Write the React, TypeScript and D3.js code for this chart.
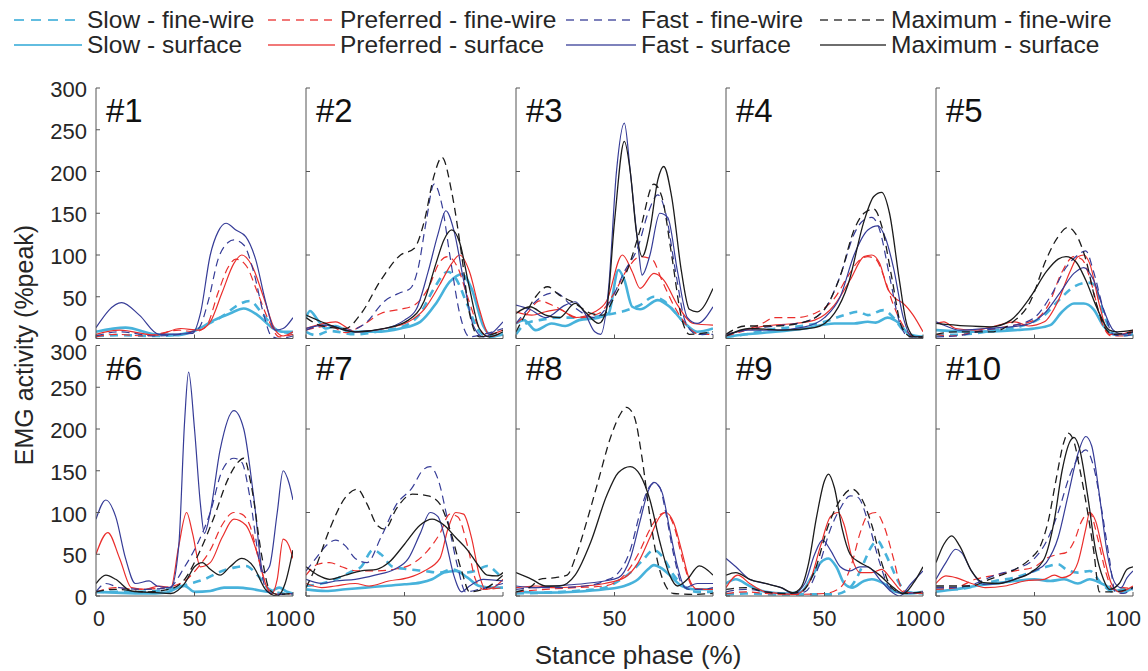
import React from 'react';
import * as d3 from 'd3';

type Pt = [number, number];
type Series = Pt[] | null;

// ---- categories / labels ----
const panelNames = ['#1', '#2', '#3', '#4', '#5', '#6', '#7', '#8', '#9', '#10'];
const speeds = ['Slow', 'Preferred', 'Fast', 'Maximum'];
const electrodes = ['fine-wire', 'surface'];
const speedColors = ['#47B2DB', '#EA2E2C', '#363C97', '#1C1C1C'];
const speedWidths = [2.6, 1.2, 1.2, 1.3];
const xTicks = [0, 50, 100];
const yTicksLabelled = [0, 50, 100, 150, 200, 250, 300];
const yTicksInner = [0, 100, 200, 300];

// ---- data: each panel = [slowFW, prefFW, fastFW, maxFW, slowSurf, prefSurf, fastSurf, maxSurf]
// points are [stance phase %, EMG %peak]
const p1: Series[] = [
  [[0,3],[12,4],[30,3],[45,6],[55,15],[65,28],[72,40],[78,45],[85,28],[92,10],[100,6]],
  [[0,2],[10,5],[25,3],[42,10],[50,8],[56,15],[62,55],[67,85],[71,95],[76,88],[82,55],[88,20],[93,2],[100,5]],
  [[0,3],[12,8],[30,3],[45,6],[52,12],[57,45],[62,95],[67,115],[70,118],[75,112],[80,80],[85,30],[89,3],[93,0],[100,3]],
  null,
  [[0,8],[15,13],[30,5],[42,4],[50,9],[60,22],[68,30],[75,36],[82,28],[90,12],[95,8],[100,8]],
  [[0,5],[12,10],[30,4],[43,12],[52,10],[58,20],[64,55],[70,90],[74,100],[79,88],[85,50],[91,10],[95,3],[100,8]],
  [[0,13],[13,43],[22,28],[32,5],[49,6],[53,30],[58,100],[62,128],[66,138],[71,130],[76,122],[81,95],[86,45],[91,10],[95,12],[100,25]],
  null,
];
const p2: Series[] = [
  [[0,8],[5,4],[12,9],[25,5],[40,10],[50,15],[58,30],[65,60],[72,80],[76,72],[82,40],[88,8],[93,2],[100,6]],
  [[0,10],[12,15],[20,7],[28,15],[38,30],[48,35],[55,40],[62,60],[68,92],[72,98],[77,85],[82,50],[88,12],[93,2],[100,8]],
  [[0,10],[10,16],[22,10],[30,18],[40,45],[48,55],[53,60],[57,85],[61,140],[65,185],[69,160],[73,100],[78,30],[83,2],[90,5],[100,12]],
  [[0,25],[8,15],[20,12],[28,30],[38,70],[48,100],[55,108],[60,140],[65,195],[69,217],[74,175],[79,100],[83,30],[88,2],[100,10]],
  [[0,25],[2,33],[6,22],[10,12],[15,15],[22,8],[35,8],[48,12],[58,20],[66,42],[73,68],[79,77],[84,60],[90,15],[95,3],[100,5]],
  [[0,12],[15,20],[25,8],[40,12],[52,20],[60,35],[68,65],[74,90],[78,100],[83,80],[88,35],[93,5],[100,10]],
  [[0,12],[10,16],[25,8],[40,12],[50,22],[56,35],[62,80],[67,125],[71,153],[75,130],[80,70],[85,15],[90,2],[100,20]],
  [[0,28],[10,18],[25,8],[40,12],[52,22],[60,45],[66,90],[70,118],[74,130],[78,115],[83,60],[88,12],[93,2],[100,8]],
];
const p3: Series[] = [
  [[0,5],[5,18],[12,22],[22,25],[35,25],[45,28],[55,33],[63,40],[70,50],[75,45],[82,28],[88,12],[93,5],[100,8]],
  [[0,18],[5,28],[12,45],[20,38],[32,25],[42,30],[50,55],[57,85],[63,98],[69,95],[74,70],[80,40],[87,15],[93,5],[100,5]],
  [[0,18],[6,35],[13,50],[20,55],[28,40],[40,25],[48,45],[55,80],[62,110],[67,150],[72,172],[76,150],[81,80],[86,20],[92,5],[100,5]],
  [[0,8],[5,30],[10,50],[16,62],[22,52],[30,42],[38,30],[44,28],[50,50],[57,85],[63,130],[70,185],[74,170],[79,100],[84,25],[88,5],[100,8]],
  [[0,18],[4,22],[10,10],[18,18],[25,15],[32,22],[42,25],[47,30],[52,82],[55,70],[59,38],[63,35],[72,46],[78,38],[85,20],[92,8],[100,12]],
  [[0,32],[8,28],[15,32],[22,35],[30,25],[40,32],[46,45],[54,100],[59,80],[63,60],[70,78],[75,70],[82,40],[90,18],[100,16]],
  [[0,40],[7,35],[15,25],[25,40],[30,44],[35,30],[40,8],[43,5],[47,60],[51,200],[55,258],[58,200],[62,110],[64,76],[68,100],[73,150],[77,145],[82,80],[87,25],[92,18],[100,38]],
  [[0,30],[7,38],[15,28],[22,25],[30,42],[35,32],[42,18],[46,35],[50,140],[55,236],[58,200],[61,130],[64,98],[68,130],[72,190],[75,206],[79,170],[84,80],[88,35],[92,32],[100,60]],
];
const p4: Series[] = [
  [[0,2],[10,5],[20,10],[35,14],[50,20],[60,28],[67,32],[72,28],[80,34],[85,25],[90,10],[95,3],[100,2]],
  [[0,3],[10,10],[20,20],[24,25],[35,25],[45,30],[55,48],[62,75],[67,92],[72,98],[76,95],[80,75],[85,40],[90,15],[95,3],[100,2]],
  [[0,5],[10,10],[25,15],[40,20],[50,35],[58,75],[65,125],[70,142],[74,145],[78,130],[83,75],[88,20],[93,2],[100,2]],
  [[0,5],[10,15],[25,15],[40,20],[50,35],[58,75],[65,130],[70,150],[75,155],[79,135],[84,75],[89,15],[94,2],[100,2]],
  [[0,2],[10,5],[25,8],[40,12],[55,18],[65,18],[72,20],[76,19],[82,25],[88,18],[93,5],[100,2]],
  [[0,5],[10,10],[20,15],[35,18],[45,22],[55,40],[63,70],[70,98],[74,100],[78,90],[82,60],[86,48],[90,42],[95,28],[100,8]],
  [[0,3],[10,10],[25,10],[40,14],[50,25],[58,50],[65,100],[72,130],[77,135],[81,120],[85,85],[90,25],[94,3],[100,2]],
  [[0,3],[12,12],[30,10],[45,13],[55,30],[62,65],[70,140],[75,170],[79,175],[83,150],[88,70],[92,15],[96,2],[100,2]],
];
const p5: Series[] = [
  [[0,4],[15,5],[30,10],[45,16],[55,28],[62,45],[70,62],[77,67],[80,65],[85,30],[90,6],[95,4],[100,5]],
  [[0,5],[8,3],[20,8],[35,14],[50,22],[57,40],[64,80],[70,98],[74,95],[79,65],[84,20],[89,3],[95,3],[100,8]],
  [[0,2],[10,3],[25,10],[40,16],[50,25],[58,50],[66,85],[72,100],[76,105],[80,80],[85,35],[90,5],[95,3],[100,5]],
  [[0,5],[10,8],[28,8],[38,18],[48,45],[56,95],[62,122],[67,133],[71,125],[76,95],[81,45],[86,12],[90,5],[100,8]],
  [[0,10],[20,8],[40,10],[50,12],[58,16],[64,32],[70,42],[75,42],[80,35],[85,15],[90,5],[100,5]],
  [[0,18],[4,20],[10,12],[20,10],[30,15],[40,20],[47,15],[55,20],[62,45],[68,80],[72,98],[75,100],[78,90],[83,40],[88,5],[94,5],[100,10]],
  [[0,20],[5,15],[12,10],[25,12],[45,16],[55,30],[63,55],[70,78],[75,85],[80,70],[85,35],[90,10],[95,5],[100,8]],
  [[0,18],[15,15],[28,14],[38,22],[48,50],[56,80],[62,95],[66,98],[71,92],[76,70],[82,35],[88,10],[92,8],[100,10]],
];
const p6: Series[] = [
  [[0,5],[15,5],[30,6],[40,10],[48,15],[55,20],[62,28],[70,34],[76,36],[82,25],[88,8],[95,3],[100,2]],
  [[0,5],[10,10],[20,8],[35,10],[45,18],[52,35],[58,55],[64,85],[70,100],[74,98],[78,85],[83,40],[87,10],[92,2],[100,3]],
  [[0,5],[5,15],[12,10],[25,8],[37,10],[45,35],[52,65],[58,100],[64,150],[70,165],[74,160],[78,120],[83,40],[87,5],[92,2],[100,3]],
  [[0,5],[10,8],[25,5],[37,8],[45,20],[52,50],[60,95],[67,140],[72,160],[75,165],[79,130],[84,50],[88,8],[92,2],[100,3]],
  [[0,5],[10,4],[25,3],[35,4],[45,12],[50,5],[58,6],[65,10],[72,10],[80,8],[88,5],[93,10],[97,5],[100,3]],
  [[0,50],[6,76],[12,45],[18,10],[25,8],[32,12],[38,10],[42,60],[46,100],[49,75],[53,35],[58,40],[64,70],[70,92],[76,85],[82,50],[86,15],[89,2],[92,20],[95,68],[98,60],[100,45]],
  [[0,92],[5,115],[10,95],[15,45],[20,15],[27,18],[31,12],[38,10],[42,60],[45,210],[47,268],[50,200],[53,110],[55,75],[58,100],[63,175],[70,222],[75,200],[80,120],[85,28],[88,35],[92,100],[95,150],[98,135],[100,115]],
  [[0,15],[5,25],[10,20],[18,6],[30,4],[38,3],[45,15],[50,35],[54,40],[58,32],[63,25],[68,35],[74,45],[80,35],[86,8],[92,0],[96,15],[100,55]],
];
const p7: Series[] = [
  [[0,12],[8,15],[15,20],[22,28],[28,35],[34,55],[38,50],[44,35],[52,32],[60,30],[68,28],[74,32],[80,28],[86,30],[92,36],[96,30],[100,20]],
  [[0,25],[6,38],[12,40],[18,35],[26,30],[35,30],[45,32],[55,40],[62,55],[68,75],[73,98],[77,95],[82,60],[86,20],[90,8],[100,10]],
  [[0,30],[5,45],[11,62],[15,67],[20,60],[25,45],[31,40],[38,70],[46,110],[54,130],[59,150],[63,155],[67,140],[72,90],[77,35],[81,5],[88,8],[100,15]],
  [[0,10],[5,35],[12,80],[20,118],[26,128],[31,110],[36,85],[40,80],[46,105],[54,122],[62,120],[68,110],[73,80],[79,30],[83,5],[90,8],[100,25]],
  [[0,8],[10,6],[20,8],[30,10],[40,12],[50,14],[58,16],[64,20],[70,28],[76,30],[82,22],[88,12],[95,10],[100,10]],
  [[0,15],[8,10],[15,12],[25,15],[32,12],[42,18],[52,22],[60,30],[68,45],[72,80],[76,100],[80,98],[84,70],[88,25],[91,8],[95,10],[100,20]],
  [[0,20],[8,15],[15,18],[25,20],[35,25],[45,32],[52,45],[58,75],[63,100],[67,95],[71,65],[75,25],[79,5],[83,12],[90,20],[100,18]],
  [[0,35],[6,25],[12,20],[20,25],[28,30],[36,32],[42,40],[50,62],[58,85],[64,92],[70,85],[76,70],[82,55],[88,35],[92,25],[97,24],[100,28]],
];
const p8: Series[] = [
  [[0,3],[15,4],[30,6],[45,10],[52,18],[58,28],[64,42],[70,55],[74,48],[80,25],[85,12],[92,5],[100,5]],
  [[0,5],[15,8],[30,10],[45,12],[55,25],[62,50],[68,80],[72,95],[76,100],[80,85],[85,40],[90,10],[95,8],[100,8]],
  [[0,8],[10,10],[20,10],[35,12],[45,18],[52,28],[58,55],[63,100],[67,128],[70,135],[73,130],[76,100],[80,50],[84,15],[88,8],[95,8],[100,10]],
  [[0,5],[8,12],[12,20],[20,22],[26,25],[30,45],[36,90],[42,140],[48,190],[53,218],[56,226],[60,215],[64,165],[68,95],[72,40],[76,12],[80,3],[90,2],[100,3]],
  [[0,5],[15,4],[30,5],[45,8],[55,12],[62,20],[67,32],[70,37],[74,33],[78,25],[84,12],[90,8],[100,8]],
  [[0,10],[10,12],[20,10],[35,12],[45,15],[55,22],[62,40],[68,70],[73,95],[76,100],[80,88],[84,55],[88,20],[92,8],[100,8]],
  [[0,12],[10,10],[20,12],[35,15],[45,18],[52,22],[58,45],[63,90],[67,125],[70,136],[74,125],[78,80],[82,35],[86,10],[92,15],[100,15]],
  [[0,28],[8,20],[15,12],[22,12],[30,25],[38,65],[46,120],[52,148],[58,155],[63,145],[68,115],[73,65],[78,25],[82,12],[87,20],[93,36],[100,25]],
];
const p9: Series[] = [
  [[0,2],[10,3],[25,2],[40,2],[55,2],[62,8],[66,20],[70,40],[74,60],[77,66],[80,55],[84,35],[88,15],[92,5],[100,3]],
  [[0,3],[10,5],[20,3],[35,2],[50,3],[58,10],[64,40],[68,75],[72,97],[76,100],[80,85],[85,45],[89,10],[93,3],[100,5]],
  [[0,5],[10,8],[20,5],[30,3],[40,5],[47,35],[53,80],[58,105],[63,120],[67,118],[72,90],[78,40],[83,10],[90,3],[100,5]],
  [[0,8],[10,10],[20,5],[30,3],[38,5],[45,30],[52,85],[58,115],[64,128],[68,120],[74,85],[79,40],[84,10],[90,3],[100,5]],
  [[0,15],[5,20],[12,12],[20,5],[30,3],[38,5],[44,25],[48,40],[52,45],[56,35],[60,15],[64,10],[70,18],[74,20],[80,15],[86,5],[92,3],[100,5]],
  [[0,10],[6,25],[12,15],[20,5],[35,2],[42,15],[48,60],[53,95],[57,100],[60,85],[64,45],[68,28],[74,28],[79,32],[84,20],[90,5],[100,3]],
  [[0,45],[5,35],[12,20],[20,15],[28,10],[34,3],[40,15],[45,50],[49,67],[53,55],[58,35],[63,30],[68,35],[72,35],[78,20],[84,5],[88,0],[94,15],[100,30]],
  [[0,25],[5,28],[12,20],[20,15],[28,10],[34,4],[38,10],[42,40],[46,95],[50,138],[52,146],[55,130],[59,80],[63,50],[68,40],[72,35],[78,25],[85,10],[90,3],[95,15],[100,35]],
];
const p10: Series[] = [
  [[0,8],[10,8],[20,12],[30,18],[40,22],[50,30],[56,35],[62,38],[66,32],[72,28],[78,30],[84,15],[90,5],[95,8],[100,8]],
  [[0,8],[10,10],[20,20],[30,25],[40,30],[50,35],[56,45],[62,50],[66,52],[70,65],[74,90],[78,100],[82,70],[86,30],[90,8],[95,10],[100,8]],
  [[0,10],[10,10],[20,15],[30,25],[40,32],[50,45],[56,65],[62,100],[68,145],[72,165],[76,175],[80,155],[84,105],[88,45],[91,5],[95,3],[100,10]],
  [[0,12],[10,12],[18,12],[25,18],[33,25],[41,33],[48,45],[53,60],[57,90],[61,140],[65,185],[67,195],[70,185],[73,152],[77,100],[80,55],[83,5],[90,5],[100,10]],
  [[0,5],[10,8],[20,12],[30,15],[40,18],[50,20],[58,18],[65,20],[72,15],[78,20],[84,15],[90,8],[95,5],[100,10]],
  [[0,15],[5,24],[10,22],[18,15],[25,10],[35,12],[45,18],[55,20],[60,25],[64,22],[68,25],[72,40],[76,80],[78,100],[81,90],[85,50],[89,15],[93,5],[100,12]],
  [[0,20],[5,40],[10,56],[13,52],[18,30],[24,14],[32,15],[42,22],[50,30],[56,40],[62,70],[67,120],[72,170],[76,191],[79,180],[83,120],[87,50],[91,15],[94,10],[97,22],[100,30]],
  [[0,40],[4,62],[8,72],[12,60],[18,30],[24,16],[32,15],[40,20],[48,28],[55,45],[60,90],[64,150],[68,185],[70,190],[73,175],[77,120],[81,55],[85,20],[88,8],[93,15],[97,32],[100,35]],
];
const panels: Series[][] = [p1, p2, p3, p4, p5, p6, p7, p8, p9, p10];

// ---- layout ----
const W = 1148;
const H = 671;
const colLeft = 96;
const colStep = 210;
const plotW = 197;
const rowTops = [88, 345.5];
const plotH = 250.5;
const FONT = "Arial, 'Liberation Sans', Helvetica, sans-serif";
const TXT = '#262626';
const AX = '#555555';

const legendCols = [14, 268, 566, 820];
const legendLineLen = [68, 67, 70, 66];
const legendRows = [20, 45];

function dashFor(speedIdx: number, elecIdx: number): string | undefined {
  if (elecIdx === 1) return undefined;
  return speedIdx === 0 ? '8,6' : '8,5';
}

export default function App() {
  const x = d3.scaleLinear().domain([0, 100]).range([0, plotW]);
  const y = d3.scaleLinear().domain([0, 300]).range([plotH, 0]);
  const line = d3
    .line<Pt>()
    .x((d) => x(d[0]))
    .y((d) => y(d[1]))
    .curve(d3.curveMonotoneX);

  // draw order: slow, preferred, fast, maximum; fine-wire then surface
  const order: number[] = [];
  for (let s = 0; s < 4; s++) for (let e = 0; e < 2; e++) order.push(e * 4 + s);

  const xLabelPos = (t: number) => {
    if (t === 0) return { x: x(t) + 3, anchor: 'middle' as const };
    if (t === 100) return { x: x(t) + 8, anchor: 'end' as const };
    return { x: x(t), anchor: 'middle' as const };
  };

  const yLabelShift = (row: number, t: number) => {
    if (row === 0 && t === 0) return -7;
    if (row === 1 && t === 300) return 5;
    return 0;
  };

  return (
    <svg
      width={W}
      height={H}
      viewBox={`0 0 ${W} ${H}`}
      style={{ position: 'absolute', left: 0, top: 0, background: '#fff' }}
      fontFamily={FONT}
    >
      <defs>
        <clipPath id="plotclip">
          <rect x={0} y={0} width={plotW} height={plotH} />
        </clipPath>
      </defs>

      {/* legend */}
      {electrodes.map((el, ei) =>
        speeds.map((sp, si) => {
          const lx = legendCols[si];
          const ly = legendRows[ei];
          return (
            <g key={`lg-${ei}-${si}`}>
              <line
                x1={lx}
                x2={lx + legendLineLen[si]}
                y1={ly}
                y2={ly}
                stroke={speedColors[si]}
                strokeWidth={si === 0 ? 2.2 : 1.4}
                strokeDasharray={ei === 0 ? (si === 0 ? '10,7' : '8,6') : undefined}
                opacity={0.85}
              />
              <text x={lx + legendLineLen[si] + 5} y={ly + 8} fontSize={24.5} fill={TXT}>
                {`${sp} - ${el}`}
              </text>
            </g>
          );
        })
      )}

      {/* panels */}
      {panels.map((series, pi) => {
        const col = pi % 5;
        const row = Math.floor(pi / 5);
        const left = colLeft + col * colStep;
        const top = rowTops[row];
        const yt = col === 0 ? yTicksLabelled : yTicksInner;
        return (
          <g key={`p${pi}`} transform={`translate(${left},${top})`}>
            <g clipPath="url(#plotclip)">
              {order.map((k) => {
                const d = series[k];
                if (!d) return null;
                const si = k % 4;
                const ei = Math.floor(k / 4);
                return (
                  <path
                    key={k}
                    d={line(d) || ''}
                    fill="none"
                    stroke={speedColors[si]}
                    strokeWidth={speedWidths[si]}
                    strokeDasharray={dashFor(si, ei)}
                    strokeLinejoin="round"
                  />
                );
              })}
            </g>
            {/* axes */}
            <line x1={0} x2={0} y1={0} y2={plotH} stroke={AX} strokeWidth={1} />
            <line x1={0} x2={plotW} y1={plotH} y2={plotH} stroke={AX} strokeWidth={1} />
            {yt.map((t) => (
              <line key={`yt${t}`} x1={0} x2={4} y1={y(t)} y2={y(t)} stroke={AX} strokeWidth={1} />
            ))}
            {xTicks.map((t) => (
              <line key={`xt${t}`} x1={x(t)} x2={x(t)} y1={plotH} y2={plotH - 4} stroke={AX} strokeWidth={1} />
            ))}
            {col === 0 &&
              yTicksLabelled.map((t) => (
                <text
                  key={`yl${t}`}
                  x={-9}
                  y={y(t) + yLabelShift(row, t)}
                  dy="0.42em"
                  textAnchor="end"
                  fontSize={22}
                  fill={TXT}
                >
                  {t}
                </text>
              ))}
            {row === 1 &&
              xTicks.map((t) => {
                const p = xLabelPos(t);
                return (
                  <text
                    key={`xl${t}`}
                    x={p.x}
                    y={plotH + 30}
                    textAnchor={p.anchor}
                    fontSize={21.5}
                    fill={TXT}
                  >
                    {t}
                  </text>
                );
              })}
            <text x={10} y={34} fontSize={33} fill="#111">
              {panelNames[pi]}
            </text>
          </g>
        );
      })}

      {/* axis titles */}
      <text
        transform="translate(33,345) rotate(-90)"
        textAnchor="middle"
        fontSize={25}
        fill={TXT}
      >
        EMG activity (%peak)
      </text>
      <text x={638} y={664} textAnchor="middle" fontSize={26} fill={TXT}>
        Stance phase (%)
      </text>
    </svg>
  );
}
